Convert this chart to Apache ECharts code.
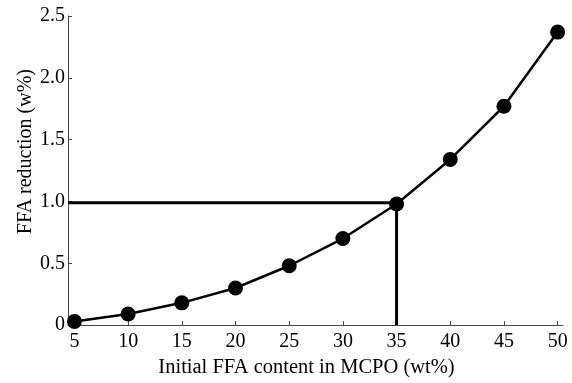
<!DOCTYPE html>
<html>
<head>
<meta charset="utf-8">
<script src="https://cdn.jsdelivr.net/npm/echarts@6/dist/echarts.min.js"></script>
<style>
  html, body { margin: 0; padding: 0; background: #fff; }
  #chart { width: 572px; height: 383px; }
</style>
</head>
<body>
<div id="chart"></div>
<script>
  // data
  var ffaContent = [5, 10, 15, 20, 25, 30, 35, 40, 45, 50];
  var ffaReduction = [0.03, 0.09, 0.18, 0.30, 0.48, 0.70, 0.98, 1.34, 1.77, 2.37];
  var xTicks = [5, 10, 15, 20, 25, 30, 35, 40, 45, 50];
  var yTicks = [0, 0.5, 1.0, 1.5, 2.0, 2.5];
  // guide lines: 1.0 w% reduction <-> 35 wt% content
  var guideX = 35;
  var guideY = 0.99;
  var xMin = 4.4, xMax = 50.5;

  var font = '"Liberation Serif", "DejaVu Serif", serif';
  var chart = echarts.init(document.getElementById('chart'));

  var curve = ffaContent.map(function (x, i) { return [x, ffaReduction[i]]; });

  chart.setOption({
    animation: false,
    grid: { left: 68, right: 9, top: 16, bottom: 53 },
    xAxis: {
      type: 'value',
      min: xMin,
      max: xMax,
      name: 'Initial FFA content in MCPO (wt%)',
      nameLocation: 'middle',
      nameGap: 27,
      nameTextStyle: { fontFamily: font, fontSize: 20.5, color: '#000', padding: [0, 18, 0, 0] },
      axisLine: { lineStyle: { color: '#444', width: 1 } },
      axisTick: { show: true, inside: true, length: 4, customValues: xTicks, lineStyle: { color: '#444' } },
      axisLabel: {
        customValues: xTicks,
        margin: 7,
        fontFamily: font, fontSize: 20, color: '#000'
      },
      splitLine: { show: false }
    },
    yAxis: {
      type: 'value',
      min: 0,
      max: 2.5,
      interval: 0.5,
      name: 'FFA reduction (w%)',
      nameLocation: 'middle',
      nameGap: 32,
      nameMoveOverlap: false,
      nameTextStyle: { fontFamily: font, fontSize: 20, color: '#000', padding: [0, 0, 0, 38] },
      axisLine: { show: true, lineStyle: { color: '#444', width: 1 } },
      axisTick: { show: true, inside: true, length: 4, lineStyle: { color: '#444' } },
      axisLabel: {
        margin: 3,
        fontFamily: font, fontSize: 20, color: '#000',
        formatter: function (v) { return v === 0 ? '0' : v.toFixed(1); }
      },
      splitLine: { show: false }
    },
    series: [
      {
        type: 'line',
        data: [[xMin, guideY], [guideX, guideY]],
        symbol: 'none',
        lineStyle: { color: '#000', width: 3 },
        z: 1
      },
      {
        type: 'line',
        data: [[guideX, 0], [guideX, guideY]],
        symbol: 'none',
        lineStyle: { color: '#000', width: 3 },
        z: 1
      },
      {
        type: 'line',
        data: curve,
        symbol: 'circle',
        symbolSize: 15,
        itemStyle: { color: '#000' },
        lineStyle: { color: '#000', width: 2.5 },
        z: 2
      }
    ]
  });
</script>
</body>
</html>
